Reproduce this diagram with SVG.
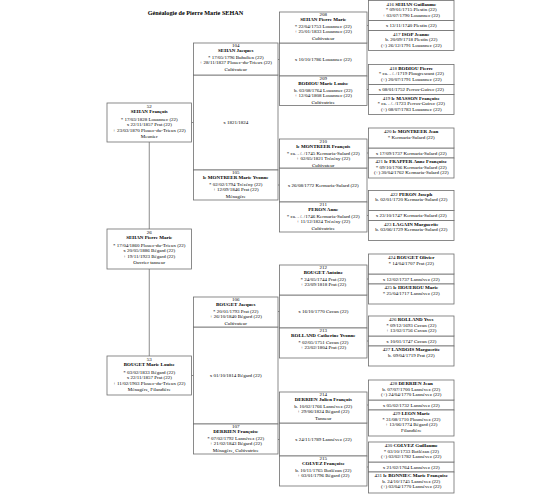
<svg xmlns="http://www.w3.org/2000/svg" width="560" height="500" viewBox="0 0 560 500">
<style>
rect{fill:#fff;stroke:#6e6e6e;stroke-width:0.8}
text{font-family:"Liberation Serif","Times New Roman",serif;font-size:5px;fill:#000;text-anchor:middle}
.n{font-weight:bold}
.title{font-size:6.2px;font-weight:bold}
line{stroke:#6e6e6e;stroke-width:0.8}
</style>
<rect x="0" y="0" width="560" height="500" style="stroke:none"/>
<text class="title" x="195.5" y="15">Généalogie de Pierre Marie SEHAN</text>

<g id="connectors">
<line x1="149.25" y1="142" x2="149.25" y2="229"/>
<line x1="149.25" y1="269" x2="149.25" y2="356"/>
<line x1="191.5" y1="122.5" x2="193.5" y2="122.5"/>
<line x1="191.5" y1="375.5" x2="193.5" y2="375.5"/>
<line x1="278" y1="59.5" x2="279.5" y2="59.5"/>
<line x1="278" y1="185" x2="279.5" y2="185"/>
<line x1="278" y1="311.5" x2="279.5" y2="311.5"/>
<line x1="278" y1="439.5" x2="279.5" y2="439.5"/>
<line x1="367" y1="25.5" x2="368.5" y2="25.5"/>
<line x1="367" y1="89.5" x2="368.5" y2="89.5"/>
<line x1="367" y1="153" x2="368.5" y2="153"/>
<line x1="367" y1="215.5" x2="368.5" y2="215.5"/>
<line x1="367" y1="279" x2="368.5" y2="279"/>
<line x1="367" y1="341" x2="368.5" y2="341"/>
<line x1="367" y1="405" x2="368.5" y2="405"/>
<line x1="367" y1="467" x2="368.5" y2="467"/>
</g>

<!-- generation 1 -->
<g id="p52"><rect x="107" y="103" width="84.5" height="39"/>
<text x="149.25" y="107.5">52</text><text class="n" x="149.25" y="112.5">SEHAN François</text>
<text x="149.25" y="120.5">* 17/03/1828 Louannec (22)</text><text x="149.25" y="126">x 22/11/1857 Prat (22)</text>
<text x="149.25" y="131.5">+ 23/03/1870 Plouec-du-Trieux (22)</text><text x="149.25" y="138">Meunier</text></g>
<g id="p26"><rect x="107" y="229" width="84.5" height="40"/>
<text x="149.25" y="233.5">26</text><text class="n" x="149.25" y="238.5">SEHAN Pierre Marie</text>
<text x="149.25" y="246.5">* 17/04/1860 Plouec-du-Trieux (22)</text><text x="149.25" y="252">x 20/05/1886 Bégard (22)</text>
<text x="149.25" y="257.5">+ 19/11/1923 Bégard (22)</text><text x="149.25" y="264">Ouvrier tanneur</text></g>
<g id="p53"><rect x="107" y="356" width="84.5" height="39"/>
<text x="149.25" y="360.5">53</text><text class="n" x="149.25" y="365.5">BOUGET Marie Louise</text>
<text x="149.25" y="373.5">* 03/02/1833 Bégard (22)</text><text x="149.25" y="379">x 22/11/1857 Prat (22)</text>
<text x="149.25" y="384.5">+ 11/02/1903 Plouec-du-Trieux (22)</text><text x="149.25" y="391">Ménagère, Filandière</text></g>

<!-- generation 2 -->
<g id="m104"><rect x="193.5" y="75" width="84.5" height="95"/><text x="235.75" y="124">x 1821/1824</text></g>
<g id="p104"><rect x="193.5" y="43" width="84.5" height="32"/>
<text x="235.75" y="47.2">104</text><text class="n" x="235.75" y="52.4">SEHAN Jacques</text>
<text x="235.75" y="58.7">* 17/05/1796 Buhulien (22)</text><text x="235.75" y="64.2">+ 28/11/1837 Plouec-du-Trieux (22)</text>
<text x="235.75" y="71">Cultivateur</text></g>
<g id="p105"><rect x="193.5" y="170" width="84.5" height="30"/>
<text x="235.75" y="174.2">105</text><text class="n" x="235.75" y="179.4">le MONTREER Marie Yvonne</text>
<text x="235.75" y="185.7">* 02/02/1794 Trézény (22)</text><text x="235.75" y="191.2">+ 12/09/1846 Prat (22)</text>
<text x="235.75" y="198">Ménagère</text></g>
<g id="m106"><rect x="193.5" y="327" width="84.5" height="97"/><text x="235.75" y="377">x 01/10/1814 Bégard (22)</text></g>
<g id="p106"><rect x="193.5" y="297" width="84.5" height="30"/>
<text x="235.75" y="301.2">106</text><text class="n" x="235.75" y="306.4">BOUGET Jacques</text>
<text x="235.75" y="312.7">* 20/01/1793 Prat (22)</text><text x="235.75" y="318.2">+ 26/10/1840 Bégard (22)</text>
<text x="235.75" y="325">Cultivateur</text></g>
<g id="p107"><rect x="193.5" y="424" width="84.5" height="30"/>
<text x="235.75" y="428.2">107</text><text class="n" x="235.75" y="433.4">DERRIEN Françoise</text>
<text x="235.75" y="439.7">* 07/02/1792 Lannévez (22)</text><text x="235.75" y="445.2">+ 21/02/1843 Bégard (22)</text>
<text x="235.75" y="452">Ménagère, Cultivatrice</text></g>

<!-- generation 3 -->
<g id="m208"><rect x="279.5" y="43" width="87.5" height="33"/><text x="323.25" y="61.2">x 10/10/1786 Louannec (22)</text></g>
<g id="p208"><rect x="279.5" y="12" width="87.5" height="31"/>
<text x="323.25" y="16.2">208</text><text class="n" x="323.25" y="21.4">SEHAN Pierre Marie</text>
<text x="323.25" y="27.7">* 22/04/1753 Louannec (22)</text><text x="323.25" y="33.2">+ 25/01/1833 Louannec (22)</text>
<text x="323.25" y="40">Cultivateur</text></g>
<g id="p209"><rect x="279.5" y="76" width="87.5" height="29.5"/>
<text x="323.25" y="80.2">209</text><text class="n" x="323.25" y="85.4">BODIOU Marie Louise</text>
<text x="323.25" y="91.7">b. 03/08/1764 Louannec (22)</text><text x="323.25" y="97.2">+ 12/04/1808 Louannec (22)</text>
<text x="323.25" y="104">Cultivatrice</text></g>

<g id="m210"><rect x="279.5" y="168" width="87.5" height="34"/><text x="323.25" y="186.7">x 26/08/1772 Kermaria-Sulard (22)</text></g>
<g id="p210"><rect x="279.5" y="139" width="87.5" height="29"/>
<text x="323.25" y="143.2">210</text><text class="n" x="323.25" y="148.4">le MONTREER François</text>
<text x="323.25" y="154.7">* ca. . /. /1745 Kermaria-Sulard (22)</text><text x="323.25" y="160.2">+ 02/05/1821 Trézény (22)</text>
<text x="323.25" y="167">Cultivateur</text></g>
<g id="p211"><rect x="279.5" y="202" width="87.5" height="30"/>
<text x="323.25" y="206.2">211</text><text class="n" x="323.25" y="211.4">PERON Anne</text>
<text x="323.25" y="217.7">* ca. . /. /1746 Kermaria-Sulard (22)</text><text x="323.25" y="223.2">+ 11/12/1824 Trézény (22)</text>
<text x="323.25" y="230">Cultivatrice</text></g>

<g id="m212"><rect x="279.5" y="295" width="87.5" height="33"/><text x="323.25" y="313.2">x 16/10/1770 Cavan (22)</text></g>
<g id="p212"><rect x="279.5" y="265" width="87.5" height="30"/>
<text x="323.25" y="269.2">212</text><text class="n" x="323.25" y="274.4">BOUGET Antoine</text>
<text x="323.25" y="280.7">* 24/05/1744 Prat (22)</text><text x="323.25" y="286.2">+ 23/09/1818 Prat (22)</text></g>
<g id="p213"><rect x="279.5" y="328" width="87.5" height="30"/>
<text x="323.25" y="332.2">213</text><text class="n" x="323.25" y="337.4">ROLLAND Catherine Yvonne</text>
<text x="323.25" y="343.7">* 02/05/1751 Cavan (22)</text><text x="323.25" y="349.2">+ 23/02/1804 Prat (22)</text></g>

<g id="m214"><rect x="279.5" y="423" width="87.5" height="33"/><text x="323.25" y="441.2">x 24/11/1789 Lannévez (22)</text></g>
<g id="p214"><rect x="279.5" y="392" width="87.5" height="31"/>
<text x="323.25" y="396.2">214</text><text class="n" x="323.25" y="401.4">DERRIEN Julien François</text>
<text x="323.25" y="407.7">b. 10/02/1766 Lannévez (22)</text><text x="323.25" y="413.2">+ 29/06/1824 Bégard (22)</text>
<text x="323.25" y="420">Tanneur</text></g>
<g id="p215"><rect x="279.5" y="456" width="87.5" height="30"/>
<text x="323.25" y="460.2">215</text><text class="n" x="323.25" y="465.4">COLVEZ Françoise</text>
<text x="323.25" y="471.7">b. 10/11/1765 Botlézan (22)</text><text x="323.25" y="477.2">+ 03/01/1796 Bégard (22)</text></g>

<!-- generation 4 -->
<g id="m416"><rect x="368.5" y="20.5" width="85.5" height="10"/><text x="411.25" y="27.2">x 13/11/1740 Plestin (22)</text></g>
<g id="p416"><rect x="368.5" y="0.5" width="85.5" height="20"/>
<text x="411.25" y="5.5">416 <tspan class="n">SEHAN Guillaume</tspan></text>
<text x="411.25" y="11">* 09/01/1715 Plestin (22)</text><text x="411.25" y="16.5">+ 03/07/1790 Louannec (22)</text></g>
<g id="p417"><rect x="368.5" y="30.5" width="85.5" height="20"/>
<text x="411.25" y="35.5">417 <tspan class="n">ISOP Jeanne</tspan></text>
<text x="411.25" y="41">b. 20/09/1718 Plestin (22)</text><text x="411.25" y="46.5">(+) 26/12/1791 Louannec (22)</text></g>

<g id="m418"><rect x="368.5" y="84.5" width="85.5" height="10"/><text x="411.25" y="91.2">x 08/01/1752 Perros-Guirec (22)</text></g>
<g id="p418"><rect x="368.5" y="64.5" width="85.5" height="20"/>
<text x="411.25" y="69.5">418 <tspan class="n">BODIOU Pierre</tspan></text>
<text x="411.25" y="75">* ca. . /. /1719 Plougrescant (22)</text><text x="411.25" y="80.5">(+) 20/07/1791 Louannec (22)</text></g>
<g id="p419"><rect x="368.5" y="94.5" width="85.5" height="20"/>
<text x="411.25" y="99.5">419 <tspan class="n">le MASSON Françoise</tspan></text>
<text x="411.25" y="105">* ca. . /. /1723 Perros-Guirec (22)</text><text x="411.25" y="110.5">(+) 08/07/1783 Louannec (22)</text></g>

<g id="m420"><rect x="368.5" y="148" width="85.5" height="10"/><text x="411.25" y="154.7">x 17/09/1737 Kermaria-Sulard (22)</text></g>
<g id="p420"><rect x="368.5" y="128" width="85.5" height="20"/>
<text x="411.25" y="133">420 <tspan class="n">le MONTREER Jean</tspan></text>
<text x="411.25" y="138.5">* Kermaria-Sulard (22)</text></g>
<g id="p421"><rect x="368.5" y="158" width="85.5" height="20"/>
<text x="411.25" y="163">421 <tspan class="n">le FRAPPER Anne Françoise</tspan></text>
<text x="411.25" y="168.5">* 09/10/1706 Kermaria-Sulard (22)</text><text x="411.25" y="174">(+) 30/04/1762 Kermaria-Sulard (22)</text></g>

<g id="m422"><rect x="368.5" y="210.5" width="85.5" height="10"/><text x="411.25" y="217.2">x 23/10/1747 Kermaria-Sulard (22)</text></g>
<g id="p422"><rect x="368.5" y="190.5" width="85.5" height="20"/>
<text x="411.25" y="195.5">422 <tspan class="n">PERON Joseph</tspan></text>
<text x="411.25" y="201">b. 02/01/1720 Kermaria-Sulard (22)</text></g>
<g id="p423"><rect x="368.5" y="220.5" width="85.5" height="20"/>
<text x="411.25" y="225.5">423 <tspan class="n">LAGAIN Marguerite</tspan></text>
<text x="411.25" y="231">b. 03/06/1729 Kermaria-Sulard (22)</text></g>

<g id="m424"><rect x="368.5" y="274" width="85.5" height="10"/><text x="411.25" y="280.7">x 12/02/1737 Lannévez (22)</text></g>
<g id="p424"><rect x="368.5" y="254" width="85.5" height="20"/>
<text x="411.25" y="259">424 <tspan class="n">BOUGET Olivier</tspan></text>
<text x="411.25" y="264.5">* 14/04/1707 Prat (22)</text></g>
<g id="p425"><rect x="368.5" y="284" width="85.5" height="20"/>
<text x="411.25" y="289">425 <tspan class="n">le HOUEROU Marie</tspan></text>
<text x="411.25" y="294.5">* 25/04/1717 Lannévez (22)</text></g>

<g id="m426"><rect x="368.5" y="336" width="85.5" height="10"/><text x="411.25" y="342.7">x 10/01/1747 Cavan (22)</text></g>
<g id="p426"><rect x="368.5" y="316" width="85.5" height="20"/>
<text x="411.25" y="321">426 <tspan class="n">ROLLAND Yves</tspan></text>
<text x="411.25" y="326.5">* 09/12/1693 Cavan (22)</text><text x="411.25" y="332">+ 13/02/1756 Cavan (22)</text></g>
<g id="p427"><rect x="368.5" y="346" width="85.5" height="20"/>
<text x="411.25" y="351">427 <tspan class="n">LANDOIS Marguerite</tspan></text>
<text x="411.25" y="356.5">b. 09/04/1719 Prat (22)</text></g>

<g id="m428"><rect x="368.5" y="400" width="85.5" height="10"/><text x="411.25" y="406.7">x 05/02/1732 Lannévez (22)</text></g>
<g id="p428"><rect x="368.5" y="380" width="85.5" height="20"/>
<text x="411.25" y="385">428 <tspan class="n">DERRIEN Jean</tspan></text>
<text x="411.25" y="390.5">b. 07/07/1700 Lannévez (22)</text><text x="411.25" y="396">(+) 24/04/1770 Lannévez (22)</text></g>
<g id="p429"><rect x="368.5" y="410" width="85.5" height="26"/>
<text x="411.25" y="415">429 <tspan class="n">LEON Marie</tspan></text>
<text x="411.25" y="420.5">* 31/08/1710 Plounévez (22)</text><text x="411.25" y="426">+ 13/06/1774 Bégard (22)</text>
<text x="411.25" y="431.5">Filandière</text></g>

<g id="m430"><rect x="368.5" y="462" width="85.5" height="10"/><text x="411.25" y="468.7">x 21/02/1764 Lannévez (22)</text></g>
<g id="p430"><rect x="368.5" y="442" width="85.5" height="20"/>
<text x="411.25" y="447">430 <tspan class="n">COLVEZ Guillaume</tspan></text>
<text x="411.25" y="452.5">* 03/10/1733 Botlézan (22)</text><text x="411.25" y="458">(+) 03/02/1782 Lannévez (22)</text></g>
<g id="p431"><rect x="368.5" y="472" width="85.5" height="21"/>
<text x="411.25" y="477">431 <tspan class="n">le BONNIEC Marie Françoise</tspan></text>
<text x="411.25" y="482.5">b. 24/10/1745 Lannévez (22)</text><text x="411.25" y="488">(+) 03/04/1770 Lannévez (22)</text></g>
</svg>
